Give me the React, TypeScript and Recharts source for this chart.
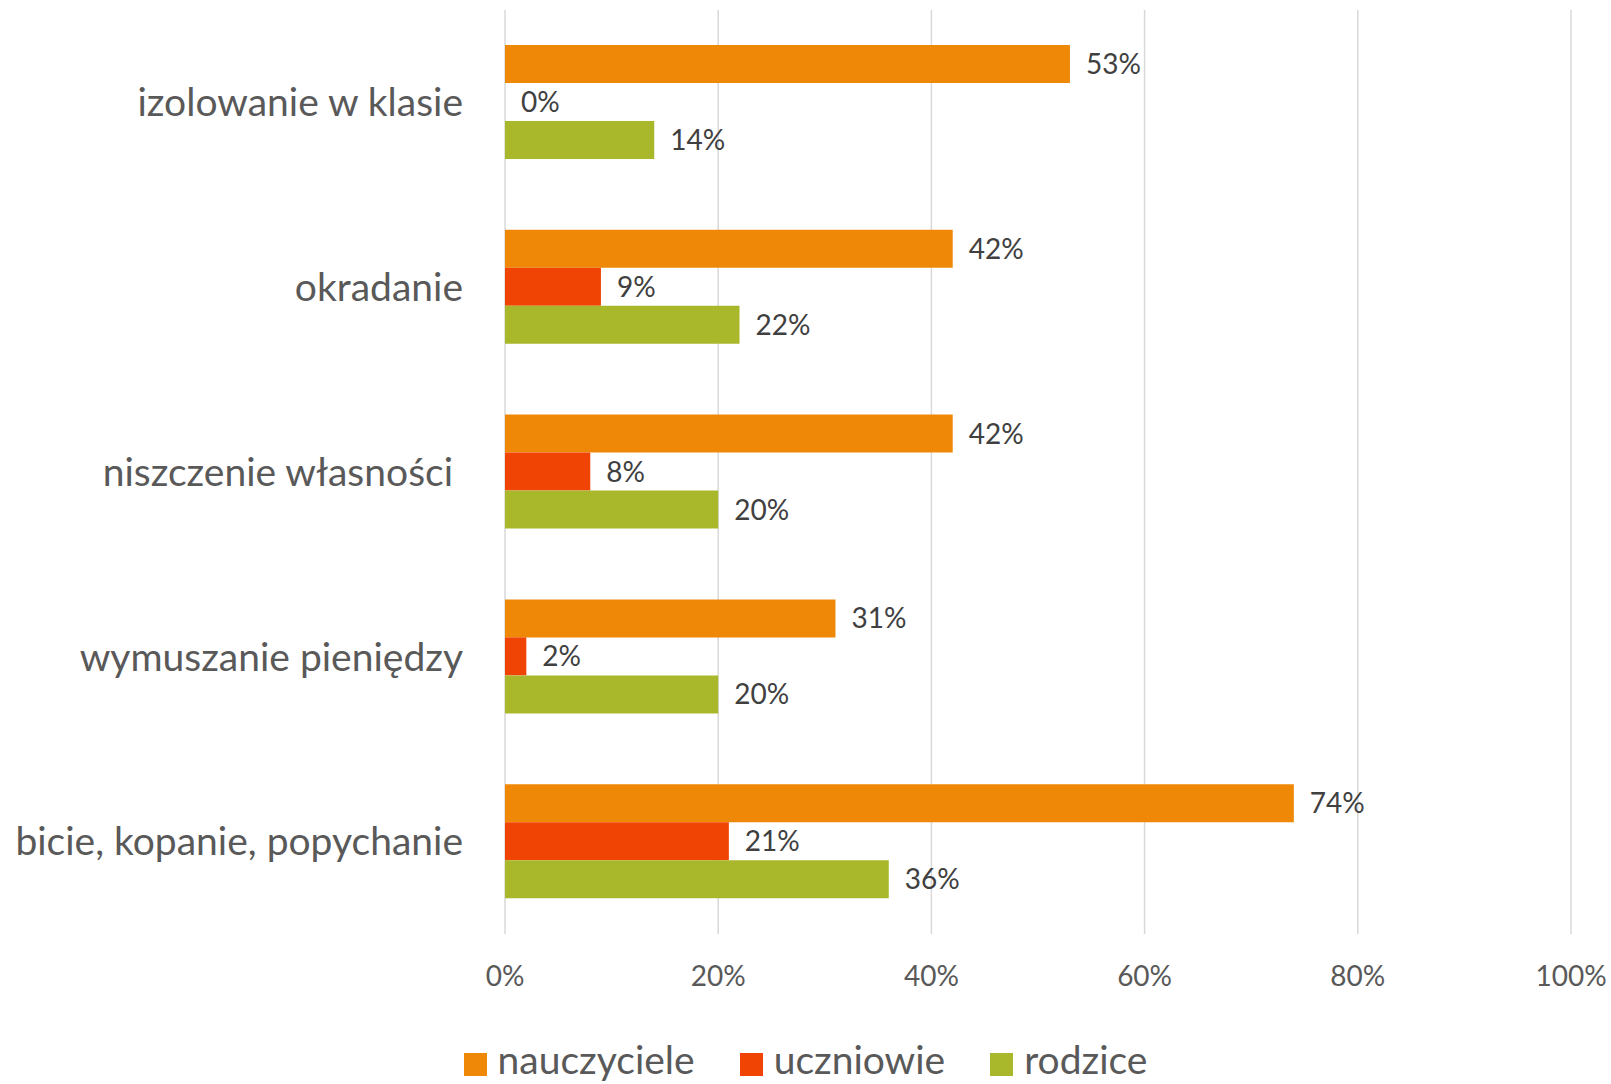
import { BarChart, Bar, XAxis, YAxis, CartesianGrid, Legend, LabelList } from "recharts";

const categories = [
  "izolowanie w klasie",
  "okradanie",
  "niszczenie własności\u00A0",
  "wymuszanie pieniędzy",
  "bicie, kopanie, popychanie",
];
const nauczyciele = [53, 42, 42, 31, 74];
const uczniowie = [0, 9, 8, 2, 21];
const rodzice = [14, 22, 20, 20, 36];
const seriesNames = ["nauczyciele", "uczniowie", "rodzice"];
const xTicks = [0, 20, 40, 60, 80, 100];

const data = categories.map((name, i) => ({
  name,
  nauczyciele: nauczyciele[i],
  uczniowie: uczniowie[i],
  rodzice: rodzice[i],
}));

const FONT = "Lato, 'Open Sans', sans-serif";
const pct = (v: any) => `${v}%`;

function LegendContent(props: any) {
  const items = [...(props.payload || [])].sort(
    (a: any, b: any) => seriesNames.indexOf(a.value) - seriesNames.indexOf(b.value)
  );
  return (
    <div style={{ display: "flex", justifyContent: "center", alignItems: "center", height: 44, fontFamily: FONT }}>
      {items.map((it: any, i: number) => (
        <div key={it.value} style={{ display: "flex", alignItems: "center", marginLeft: i === 0 ? 0 : 45 }}>
          <span style={{ width: 23, height: 23, background: it.color, display: "inline-block", marginRight: 11, position: "relative", top: 2 }} />
          <span style={{ fontSize: 39, color: "#595959", lineHeight: 1, position: "relative", top: -3 }}>{it.value}</span>
        </div>
      ))}
    </div>
  );
}

export default function App() {
  return (
    <div style={{ position: "absolute", left: 0, top: 0, background: "#fff" }}>
      <BarChart
        width={1611}
        height={1084}
        data={data}
        layout="vertical"
        margin={{ top: 10, right: 40, bottom: 0, left: 0 }}
        barSize={38}
        barGap={0}
      >
        <CartesianGrid horizontal={false} stroke="#d9d9d9" strokeWidth={1.5} />
        <XAxis
          type="number"
          domain={[0, 100]}
          ticks={xTicks}
          tickFormatter={pct}
          axisLine={false}
          tickLine={false}
          tickSize={0}
          tickMargin={32}
          height={106}
          tick={{ fontSize: 28, fill: "#595959", fontFamily: FONT }}
        />
        <YAxis
          type="category"
          dataKey="name"
          width={505}
          axisLine={false}
          tickLine={false}
          tickSize={0}
          tickMargin={42}
          tick={{ fontSize: 39, fill: "#595959", fontFamily: FONT }}
        />
        <Legend
          verticalAlign="bottom"
          content={<LegendContent />}
          wrapperStyle={{ left: 0, width: 1611, height: 44 }}
        />
        <Bar dataKey="nauczyciele" fill="#EE8806" isAnimationActive={false}>
          <LabelList dataKey="nauczyciele" position="right" offset={16} formatter={pct} fill="#404040" fontSize={28} fontFamily={FONT} />
        </Bar>
        <Bar dataKey="uczniowie" fill="#F04405" minPointSize={0.01} isAnimationActive={false}>
          <LabelList dataKey="uczniowie" position="right" offset={16} formatter={pct} fill="#404040" fontSize={28} fontFamily={FONT} />
        </Bar>
        <Bar dataKey="rodzice" fill="#A8B82A" isAnimationActive={false}>
          <LabelList dataKey="rodzice" position="right" offset={16} formatter={pct} fill="#404040" fontSize={28} fontFamily={FONT} />
        </Bar>
      </BarChart>
    </div>
  );
}
